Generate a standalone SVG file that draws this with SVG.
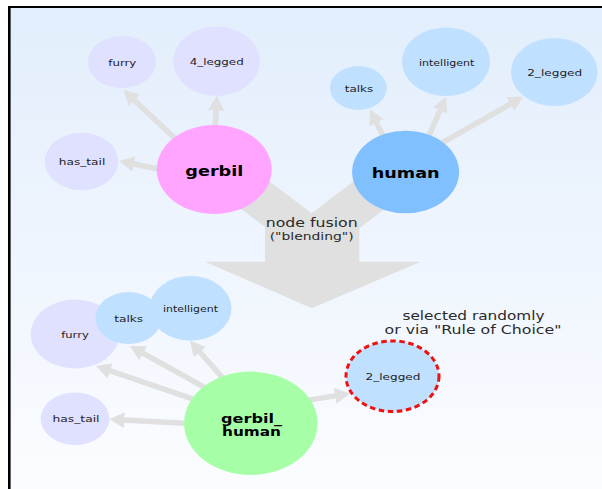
<svg xmlns="http://www.w3.org/2000/svg" width="602" height="489" viewBox="0 0 602 489">
  <style>
    text { font-family: "DejaVu Sans", Verdana, sans-serif; text-anchor: middle; fill: #1e1e1e; }
    .attr { font-size: 9px; }
    .big { font-size: 13.3px; font-weight: bold; fill: #000; }
    .mix { font-size: 12px; font-weight: bold; fill: #000; }
    .note { font-size: 12px; fill: #2a2a2a; }
    .g-attr { fill: #e0e0ff; }
    .h-attr { fill: #c0e0ff; }
    .link { stroke: #e0e0e0; stroke-width: 5.5; fill: none; marker-end: url(#head); }
  </style>
  <defs>
    <linearGradient id="bg" x1="0" y1="0" x2="0" y2="1">
      <stop offset="0" stop-color="#e2eefc"/>
      <stop offset="1" stop-color="#fbfcff"/>
    </linearGradient>
    <marker id="head" viewBox="0 0 15 16" refX="6" refY="8" markerWidth="15" markerHeight="16" markerUnits="userSpaceOnUse" orient="auto">
      <path d="M0,0 L15,8 L0,16 z" fill="#e0e0e0"/>
    </marker>
  </defs>

  <!-- page and frame -->
  <rect x="0" y="0" width="602" height="489" fill="#ffffff"/>
  <rect x="9" y="7" width="593" height="482" fill="url(#bg)"/>
  <rect x="8" y="6" width="594" height="2" fill="#000"/>
  <rect x="8" y="6" width="2.6" height="483" fill="#000"/>

  <!-- fusion arrow: two bands merging into one downward arrow -->
  <g id="fusion">
    <path d="M246,163.6 L311.7,213.3 L377,163.6 L407,192 L359.3,228.2 L359.3,261.7 L420.7,261.7 L311.7,308.3 L205,261.7 L265,261.7 L265,227 L216,190 Z" fill="#e0e0e0"/>
    <text class="note" x="311.7" y="226.7" textLength="92" lengthAdjust="spacingAndGlyphs">node fusion</text>
    <text class="note" style="font-size:10.5px" x="311.7" y="239.5" textLength="84" lengthAdjust="spacingAndGlyphs">("blending")</text>
  </g>

  <!-- connectors -->
  <g id="connectors">
    <line class="link" x1="187.9" y1="150.4" x2="130.1" y2="96.2"/>
    <line class="link" x1="214.5" y1="140" x2="216.5" y2="104.5"/>
    <line class="link" x1="177" y1="173" x2="128.1" y2="162.8"/>
    <line class="link" x1="387" y1="144" x2="373.9" y2="117.4"/>
    <line class="link" x1="425.2" y1="144.3" x2="442.4" y2="104.9"/>
    <line class="link" x1="433.6" y1="147.6" x2="515.5" y2="101.1"/>
    <line class="link" x1="204.2" y1="402.8" x2="104.5" y2="368.9"/>
    <line class="link" x1="216.4" y1="394" x2="137.9" y2="350.4"/>
    <line class="link" x1="231.6" y1="388" x2="195.9" y2="347.5"/>
    <line class="link" x1="199" y1="424.1" x2="118.3" y2="419.8"/>
    <line class="link" x1="295.2" y1="402.4" x2="341.1" y2="394.9"/>
  </g>

  <!-- source concept: gerbil -->
  <g id="gerbil-furry">
    <ellipse class="g-attr" cx="122" cy="62" rx="34" ry="26"/>
    <text class="attr" x="122.3" y="65.7" textLength="28" lengthAdjust="spacingAndGlyphs">furry</text>
  </g>
  <g id="gerbil-4legged">
    <ellipse class="g-attr" cx="216.5" cy="61.3" rx="43.3" ry="34.7"/>
    <text class="attr" x="216.7" y="65" textLength="54" lengthAdjust="spacingAndGlyphs">4_legged</text>
  </g>
  <g id="gerbil-hastail">
    <ellipse class="g-attr" cx="81.5" cy="161.5" rx="36.7" ry="28.8"/>
    <text class="attr" x="82" y="165" textLength="46.5" lengthAdjust="spacingAndGlyphs">has_tail</text>
  </g>
  <g id="gerbil">
    <ellipse cx="214.2" cy="169.5" rx="57.5" ry="44.5" fill="#ffa5ff"/>
    <text class="big" x="214.3" y="175.5" textLength="58" lengthAdjust="spacingAndGlyphs">gerbil</text>
  </g>

  <!-- source concept: human -->
  <g id="human-talks">
    <ellipse class="h-attr" cx="358.3" cy="88" rx="28.3" ry="22"/>
    <text class="attr" x="359" y="91.7" textLength="28.5" lengthAdjust="spacingAndGlyphs">talks</text>
  </g>
  <g id="human-intelligent">
    <ellipse class="h-attr" cx="446" cy="61.7" rx="44" ry="34.3"/>
    <text class="attr" x="446.7" y="65.7" textLength="55.5" lengthAdjust="spacingAndGlyphs">intelligent</text>
  </g>
  <g id="human-2legged">
    <ellipse class="h-attr" cx="554.3" cy="72" rx="43.3" ry="34"/>
    <text class="attr" x="554.7" y="75.7" textLength="55" lengthAdjust="spacingAndGlyphs">2_legged</text>
  </g>
  <g id="human">
    <ellipse cx="405.6" cy="172" rx="53.5" ry="41.3" fill="#80c0ff"/>
    <text class="big" x="405.7" y="177.6" textLength="68" lengthAdjust="spacingAndGlyphs">human</text>
  </g>

  <!-- blended concept -->
  <g id="blend-furry">
    <ellipse class="g-attr" cx="75" cy="334" rx="44.3" ry="34.5"/>
    <text class="attr" x="75" y="337.7" textLength="27.5" lengthAdjust="spacingAndGlyphs">furry</text>
  </g>
  <g id="blend-talks">
    <ellipse class="h-attr" cx="128.5" cy="318" rx="33" ry="26"/>
    <text class="attr" x="128.7" y="322.3" textLength="29" lengthAdjust="spacingAndGlyphs">talks</text>
  </g>
  <g id="blend-intelligent">
    <ellipse class="h-attr" cx="190.5" cy="308.3" rx="41" ry="32.4"/>
    <text class="attr" x="190.5" y="312.3" textLength="55" lengthAdjust="spacingAndGlyphs">intelligent</text>
  </g>
  <g id="blend-hastail">
    <ellipse class="g-attr" cx="75" cy="418.7" rx="34.3" ry="26.3"/>
    <text class="attr" x="76" y="422.3" textLength="47" lengthAdjust="spacingAndGlyphs">has_tail</text>
  </g>
  <g id="blend-2legged">
    <ellipse class="h-attr" cx="392.5" cy="376.2" rx="46.5" ry="35.3" stroke="#ee1111" stroke-width="3" stroke-dasharray="5.5 3.6"/>
    <text class="attr" x="393" y="379.5" textLength="55" lengthAdjust="spacingAndGlyphs">2_legged</text>
  </g>
  <g id="blend">
    <ellipse cx="250.8" cy="423.3" rx="66.8" ry="51.7" fill="#a6ffa6"/>
    <text class="mix" x="251.5" y="422.5" textLength="61" lengthAdjust="spacingAndGlyphs">gerbil_</text>
    <text class="mix" x="251.5" y="436" textLength="59" lengthAdjust="spacingAndGlyphs">human</text>
  </g>

  <!-- annotation for the chosen attribute -->
  <g id="choice-note">
    <text class="note" x="473.5" y="319.5" textLength="142" lengthAdjust="spacingAndGlyphs">selected randomly</text>
    <text class="note" x="473" y="333.5" textLength="177" lengthAdjust="spacingAndGlyphs">or via "Rule of Choice"</text>
  </g>
</svg>
